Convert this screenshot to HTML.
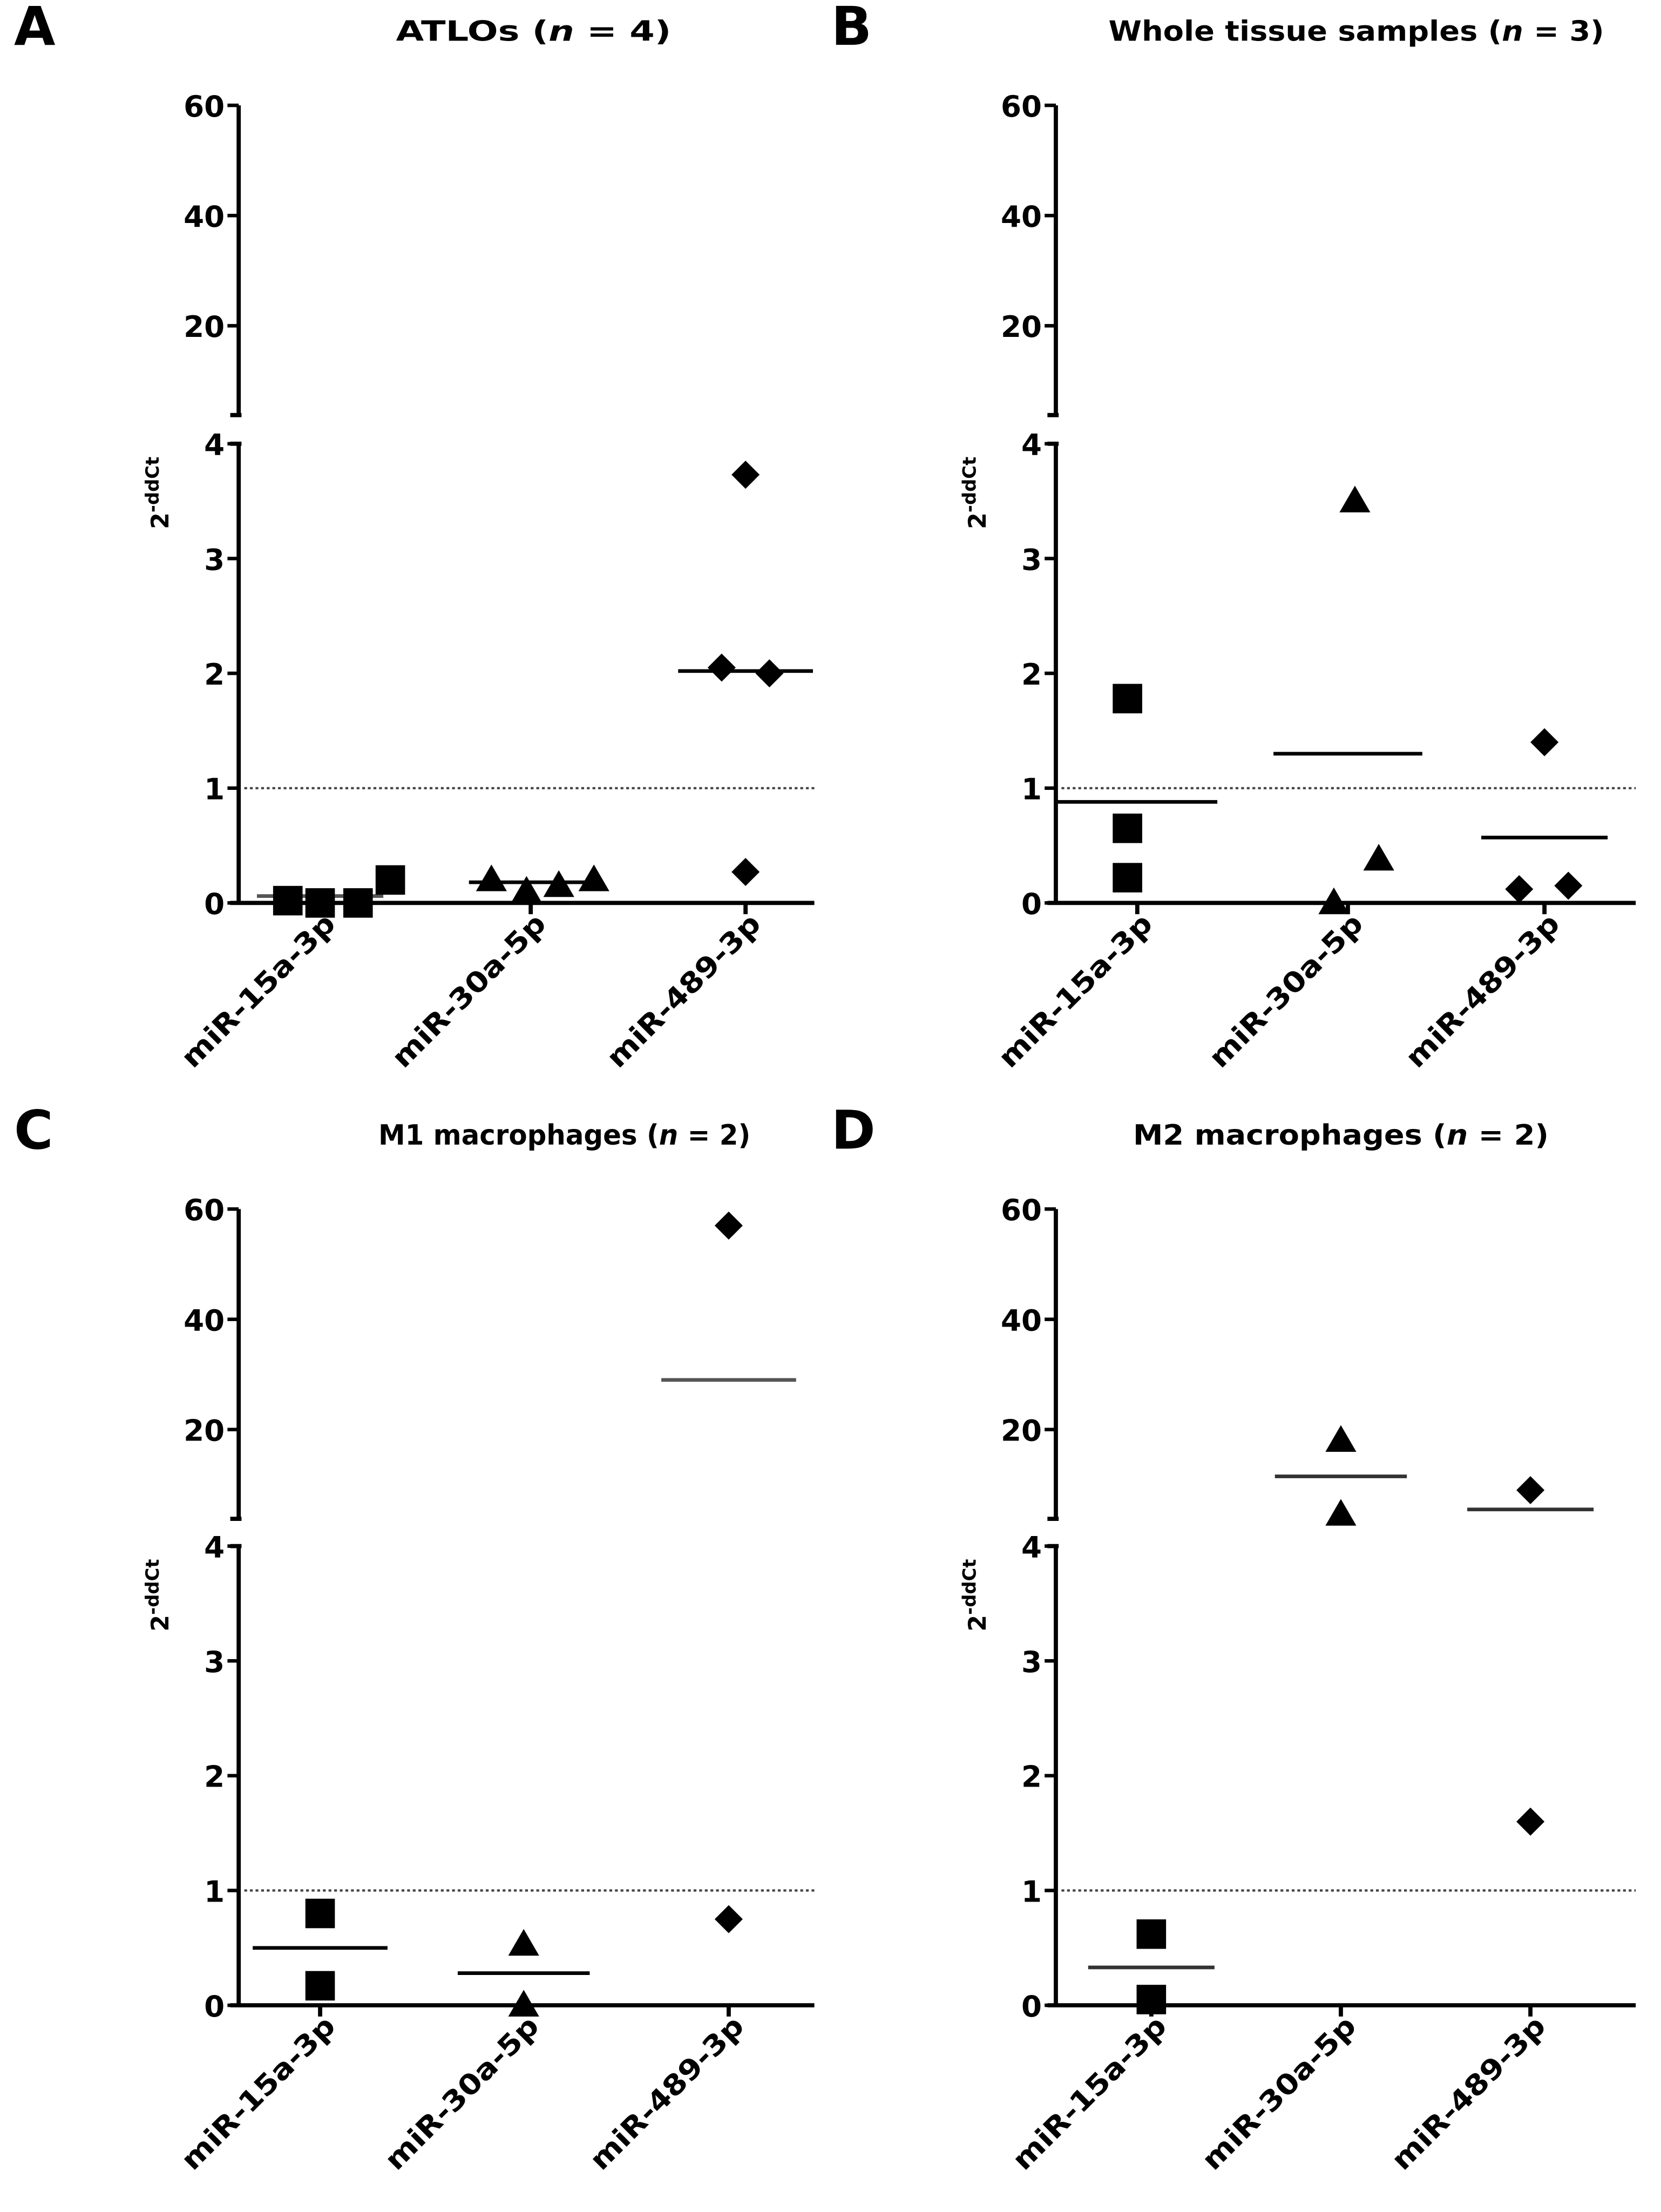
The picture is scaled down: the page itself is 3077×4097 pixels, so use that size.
<!DOCTYPE html>
<html><head><meta charset="utf-8"><style>
html,body{margin:0;padding:0;background:#fff;}
svg{display:block;}
text{font-family:"DejaVu Sans","Liberation Sans",sans-serif;}
</style></head><body>
<svg id="fig" width="3077" height="4097" viewBox="0 0 1183 1575.2" preserveAspectRatio="none"></svg>
<script>
const categories = ["miR-15a-3p","miR-30a-5p","miR-489-3p"];
const yTicksLow = [0,1,2,3,4];
const yTicksHigh = [20,40,60];
// panel A values
const aSquares = [0.02,0,0,0.2];
const aTriangles = [0.2,0.1,0.15,0.2];
const aDiamonds = [2.05,3.73,0.27,2.0];
const aLines = [0.06,0.18,2.02];
// panel B values
const bSquares = [1.78,0.65,0.22];
const bTriangles = [0.0,3.5,0.38];
const bDiamonds = [0.12,1.4,0.15];
const bLines = [0.88,1.3,0.57];
// panel C values
const cSquares = [0.8,0.17];
const cTriangles = [0.53,0.0];
const cDiamonds = [57,0.75];
const cLines = [0.5,0.28,29];
// panel D values
const dSquares = [0.62,0.05];
const dTriangles = [18,4.6];
const dDiamonds = [9,1.6];
const dLines = [0.33,11.5,5.5];

const NS="http://www.w3.org/2000/svg";
const svg=document.getElementById('fig');
function el(tag,attrs,parent){const e=document.createElementNS(NS,tag);for(const k in attrs)e.setAttribute(k,attrs[k]);(parent||svg).appendChild(e);return e;}

const panels=[
 {letter:"A",title:"ATLOs (",n:"4",tw:196,tcx:380,ax:170,y0:643,xEnd:580,top:75,cats:[228,378,531],half:[45,44,48],
  series:[aSquares,aTriangles,aDiamonds],lines:aLines,lineCol:["#555","#000","#000"],
  jit:[[-23,0,27,50],[-28,-3,20,45],[-17,0,0,17]]},
 {letter:"B",title:"Whole tissue samples (",n:"3",tw:353,tcx:966,ax:752,y0:643,xEnd:1165,top:75,cats:[810,960,1100],half:[57,53,45],
  series:[bSquares,bTriangles,bDiamonds],lines:bLines,lineCol:["#000","#000","#000"],
  jit:[[-7,-7,-7],[-10,5,22],[-18,0,17]]},
 {letter:"C",title:"M1 macrophages (",n:"2",tw:265,tcx:402,ax:170,y0:1428,xEnd:580,top:861,cats:[228,373,519],half:[48,47,48],
  series:[cSquares,cTriangles,cDiamonds],lines:cLines,lineCol:["#000","#000","#555"],
  jit:[[0,0],[0,0],[0,0]]},
 {letter:"D",title:"M2 macrophages (",n:"2",tw:296,tcx:955,ax:752,y0:1428,xEnd:1165,top:861,cats:[820,955,1090],half:[45,47,45],
  series:[dSquares,dTriangles,dDiamonds],lines:dLines,lineCol:["#333","#333","#333"],
  jit:[[0,0],[0,0],[0,0]]}
];
const unitLow=81.75, unitHigh=3.925;

panels.forEach((p,pi)=>{
  const g=el('g',{});
  
  
  const y4=p.y0-4*unitLow;
  const y20=p.top+40*unitHigh;
  const yScale=v=> v<=4 ? p.y0-v*unitLow : y20-(v-20)*unitHigh;
  const upEnd=y20+16.2*unitHigh;
  const L=el('text',{x:p.ax-160,y:p.top-43,'font-size':38,'font-weight':'bold'},g);L.textContent=p.letter;
  
  const T=el('text',{x:p.tcx,y:p.top-46,'font-size':20,'font-weight':'bold','text-anchor':'middle',textLength:p.tw,lengthAdjust:'spacingAndGlyphs'},g);
  
  T.innerHTML=p.title+'<tspan font-style="italic">n</tspan> = '+p.n+')';
  const ya=el('path',{d:`M${p.ax} ${p.top}V${upEnd}M${p.ax-6} ${upEnd}H${p.ax+2}M${p.ax} ${y4}V${p.y0}M${p.ax-6} ${y4}H${p.ax+2}`,stroke:'#000','stroke-width':3,fill:'none'},g);
  
  const xa=el('line',{x1:p.ax-6,x2:p.xEnd,y1:p.y0,y2:p.y0,stroke:'#000','stroke-width':3},g);
  
  yTicksLow.concat(yTicksHigh).forEach(v=>{
    const y=yScale(v);
    el('line',{x1:p.ax-8,x2:p.ax,y1:y,y2:y,stroke:'#000','stroke-width':2.5},g);
    const t=el('text',{x:p.ax-10,y:y+8,'font-size':21,'font-weight':'bold','text-anchor':'end'},g);t.textContent=v;
    
  });
  const yt=el('text',{transform:`translate(${p.ax-50},${y4+35}) rotate(-90)`,'font-size':17,'font-weight':'bold','text-anchor':'middle'},g);
  yt.innerHTML='2<tspan dy="-7" font-size="13">-ddCt</tspan>';
  
  const dl=el('line',{x1:p.ax+4,x2:p.xEnd,y1:yScale(1),y2:yScale(1),stroke:'#444','stroke-width':1.6,'stroke-dasharray':'2 2'},g);
  
  categories.forEach((c,ci)=>{
    const x=p.cats[ci];
    el('line',{x1:x,x2:x,y1:p.y0,y2:p.y0+8,stroke:'#000','stroke-width':3},g);
    const t=el('text',{transform:`translate(${x+12},${p.y0+16}) rotate(-45)`,'font-size':20,'font-weight':'bold','text-anchor':'end',textLength:145,lengthAdjust:'spacingAndGlyphs'},g);
    t.textContent=c;
    
    const ly=yScale(p.lines[ci]);
    const ml=el('line',{x1:x-p.half[ci],x2:x+p.half[ci],y1:ly,y2:ly,stroke:p.lineCol[ci],'stroke-width':2.6},g);
    
    p.series[ci].forEach((v,vi)=>{
      const px=x+(p.jit[ci][vi]||0), py=yScale(v);
      let m;
      if(ci===0) m=el('rect',{x:px-10.5,y:py-10.5,width:21,height:21,fill:'#000'},g);
      else if(ci===1) m=el('polygon',{points:`${px},${py-11} ${px+11},${py+8} ${px-11},${py+8}`,fill:'#000'},g);
      else m=el('polygon',{points:`${px},${py-10} ${px+10},${py} ${px},${py+10} ${px-10},${py}`,fill:'#000'},g);
      
      
    });
  });
});
</script>
</body></html>
